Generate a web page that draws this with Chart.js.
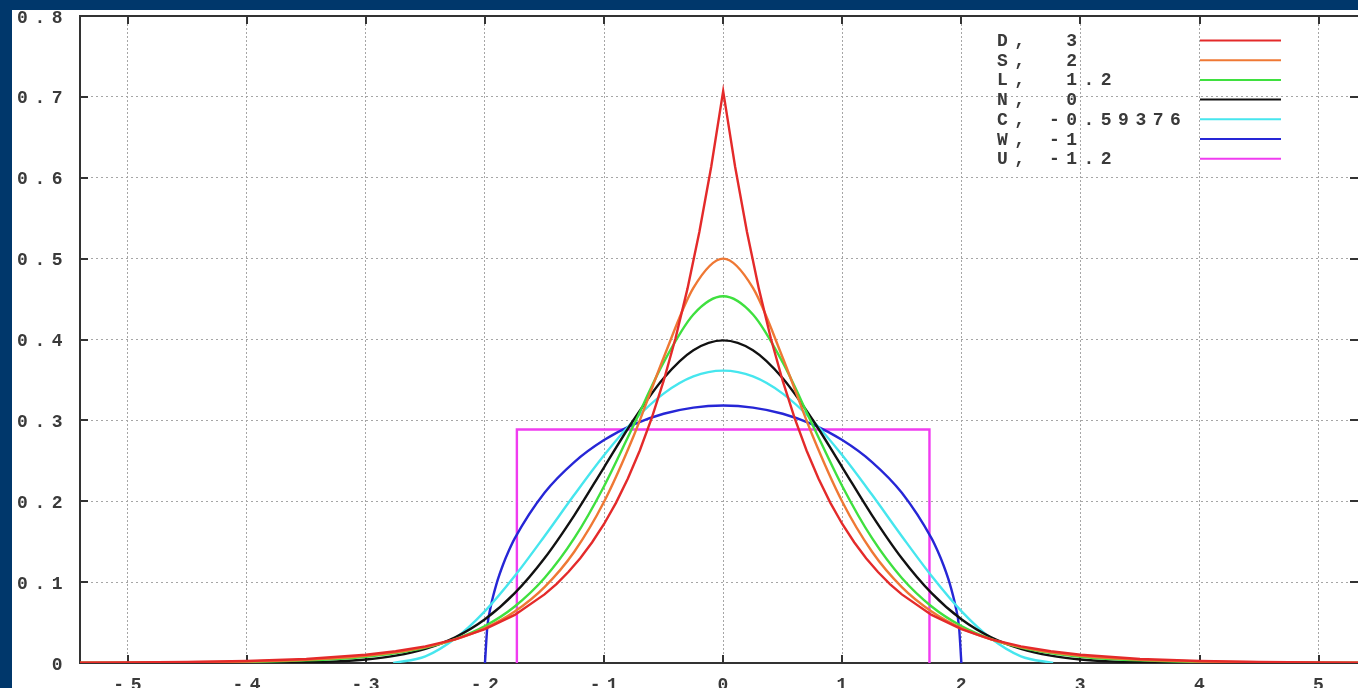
<!DOCTYPE html>
<html><head><meta charset="utf-8">
<script src="https://cdn.jsdelivr.net/npm/chart.js@4.4.1/dist/chart.umd.min.js"></script>
<style>
html,body{margin:0;padding:0;background:#00376b;width:1358px;height:688px;overflow:hidden;}
#wrap{position:absolute;left:12px;top:10px;width:1346px;height:678px;background:#fff;}
canvas{display:block;}
</style></head><body>
<div id="wrap"><canvas id="c"></canvas></div>
<script>
// ---- data ----
const names = ['D', 'S', 'L', 'N', 'C', 'W', 'U'];
const kurtosis = ['3', '2', '1.2', '0', '-0.59376', '-1', '-1.2'];
const colors = ['#e42a2a', '#ef7834', '#3fe03f', '#111111', '#46e6ee', '#2626d6', '#f03cf0'];

const xTickValues = [-5, -4, -3, -2, -1, 0, 1, 2, 3, 4, 5];
const xTickLabels = ['-5', '-4', '-3', '-2', '-1', '0', '1', '2', '3', '4', '5'];
const yTickValues = [0, 0.1, 0.2, 0.3, 0.4, 0.5, 0.6, 0.7, 0.8];
const yTickLabels = ['0', '0.1', '0.2', '0.3', '0.4', '0.5', '0.6', '0.7', '0.8'];

const xGrid = [-5.5,-5.25,-5,-4.75,-4.5,-4.25,-4,-3.75,-3.5,-3.25,-3,-2.75,-2.5,-2.25,-2,-1.75,-1.5,-1.25,-1,-0.75,-0.5,-0.25,0,
  0.25,0.5,0.75,1,1.25,1.5,1.75,2,2.25,2.5,2.75,3,3.25,3.5,3.75,4,4.25,4.5,4.75,5,5.25,5.5];

const xD = [-5.5,-5,-4.5,-4,-3.5,-3,-2.75,-2.5,-2.25,-2,-1.75,-1.5,-1.4,-1.3,-1.2,-1.1,-1,-0.9,-0.8,-0.7,-0.6,-0.5,-0.4,-0.3,-0.2,-0.1,0,
  0.1,0.2,0.3,0.4,0.5,0.6,0.7,0.8,0.9,1,1.1,1.2,1.3,1.4,1.5,1.75,2,2.25,2.5,2.75,3,3.5,4,4.5,5,5.5];
const yD = [0.0003,0.0006,0.0012,0.0025,0.0050,0.0102,0.0145,0.0206,0.0293,0.0418,0.0595,0.0848,0.0976,0.1125,0.1296,0.1493,0.1719,0.1980,0.2281,0.2628,0.3027,0.3487,0.4016,0.4626,0.5329,0.6139,0.7071,
  0.6139,0.5329,0.4626,0.4016,0.3487,0.3027,0.2628,0.2281,0.1980,0.1719,0.1493,0.1296,0.1125,0.0976,0.0848,0.0595,0.0418,0.0293,0.0206,0.0145,0.0102,0.0050,0.0025,0.0012,0.0006,0.0003];

const yS = [0.0002,0.0003,0.0004,0.0006,0.0009,0.0013,0.0019,0.0028,0.0041,0.0061,0.0090,0.0133,0.0197,0.0292,0.0431,0.0637,0.0939,0.1376,0.1993,0.2812,0.3775,0.4638,0.5000,
  0.4638,0.3775,0.2812,0.1993,0.1376,0.0939,0.0637,0.0431,0.0292,0.0197,0.0133,0.0090,0.0061,0.0041,0.0028,0.0019,0.0013,0.0009,0.0006,0.0004,0.0003,0.0002];

const yL = [0.0001,0.0001,0.0002,0.0003,0.0005,0.0008,0.0013,0.0020,0.0032,0.0050,0.0078,0.0122,0.0191,0.0296,0.0457,0.0699,0.1051,0.1543,0.2186,0.2947,0.3717,0.4309,0.4534,
  0.4309,0.3717,0.2947,0.2186,0.1543,0.1051,0.0699,0.0457,0.0296,0.0191,0.0122,0.0078,0.0050,0.0032,0.0020,0.0013,0.0008,0.0005,0.0003,0.0002,0.0001,0.0001];

const yN = [0,0,0,0,0,0,0.0001,0.0004,0.0009,0.0020,0.0044,0.0091,0.0175,0.0317,0.0540,0.0863,0.1295,0.1826,0.2420,0.3011,0.3521,0.3867,0.3989,
  0.3867,0.3521,0.3011,0.2420,0.1826,0.1295,0.0863,0.0540,0.0317,0.0175,0.0091,0.0044,0.0020,0.0009,0.0004,0.0001,0,0,0,0,0,0];

const xC = [-2.77,-2.5,-2.25,-2,-1.75,-1.5,-1.25,-1,-0.75,-0.5,-0.25,0,0.25,0.5,0.75,1,1.25,1.5,1.75,2,2.25,2.5,2.77];
const yC = [0,0.0082,0.0302,0.0642,0.1076,0.1568,0.2080,0.2569,0.2998,0.3331,0.3543,0.3615,0.3543,0.3331,0.2998,0.2569,0.2080,0.1568,0.1076,0.0642,0.0302,0.0082,0];

const xW = [-2,-1.98,-1.95,-1.9,-1.85,-1.8,-1.75,-1.5,-1.25,-1,-0.75,-0.5,-0.25,0,0.25,0.5,0.75,1,1.25,1.5,1.75,1.8,1.85,1.9,1.95,1.98,2];
const yW = [0,0.0449,0.0707,0.0994,0.1209,0.1387,0.1541,0.2105,0.2485,0.2757,0.2951,0.3082,0.3158,0.3183,0.3158,0.3082,0.2951,0.2757,0.2485,0.2105,0.1541,0.1387,0.1209,0.0994,0.0707,0.0449,0];

const xU = [-1.732, -1.732, 1.732, 1.732];
const yU = [0, 0.2887, 0.2887, 0];

// ---- build datasets ----
const seriesX = [xD, xGrid, xGrid, xGrid, xC, xW, xU];
const seriesY = [yD, yS, yL, yN, yC, yW, yU];
const smooth = [false, true, true, true, true, true, false];

function legendText(i) {
  const v = kurtosis[i];
  return names[i] + ', ' + (v.charAt(0) === '-' ? '' : ' ') + v;
}

const datasets = names.map((n, i) => ({
  label: legendText(i),
  data: seriesX[i].map((x, j) => ({ x: x, y: seriesY[i][j] })),
  showLine: true,
  borderColor: colors[i],
  backgroundColor: colors[i],
  borderWidth: 2.4,
  pointRadius: 0,
  fill: false,
  tension: 0,
  cubicInterpolationMode: smooth[i] ? 'monotone' : 'default'
}));

const FONT_FAMILY = '"Liberation Mono", "DejaVu Sans Mono", monospace';
const FONT_SIZE = 18;
const FONT_WEIGHT = 'bold';
const LETTER_SPACING = '6.5px';
const TEXT_COLOR = '#3a3a3a';

const gnuplotPlugin = {
  id: 'gnuplotFrame',
  beforeDraw(chart) {
    chart.ctx.letterSpacing = LETTER_SPACING;
  },
  beforeDatasetsDraw(chart) {
    const { ctx, chartArea: a, scales: { x, y } } = chart;
    ctx.save();
    ctx.strokeStyle = '#333';
    ctx.lineWidth = 2;
    ctx.beginPath();
    ctx.moveTo(a.left - 1, a.top);
    ctx.lineTo(a.right + 2, a.top);
    xTickValues.forEach(v => {
      const px = Math.round(x.getPixelForValue(v));
      ctx.moveTo(px, a.bottom); ctx.lineTo(px, a.bottom - 8);
      ctx.moveTo(px, a.top); ctx.lineTo(px, a.top + 8);
    });
    yTickValues.forEach(v => {
      const py = Math.round(y.getPixelForValue(v));
      ctx.moveTo(a.left, py); ctx.lineTo(a.left + 8, py);
      ctx.moveTo(a.right, py); ctx.lineTo(a.right - 8, py);
    });
    ctx.stroke();
    ctx.restore();
  },
  afterDraw(chart) {
    const ctx = chart.ctx;
    ctx.save();
    ctx.letterSpacing = LETTER_SPACING;
    ctx.font = FONT_WEIGHT + ' ' + FONT_SIZE + 'px ' + FONT_FAMILY;
    ctx.textBaseline = 'middle';
    ctx.textAlign = 'left';
    chart.data.datasets.forEach((ds, i) => {
      const yy = 30.5 + i * 19.7;
      ctx.fillStyle = TEXT_COLOR;
      ctx.fillText(ds.label, 985, yy + 1);
      ctx.strokeStyle = ds.borderColor;
      ctx.lineWidth = 2;
      ctx.beginPath();
      ctx.moveTo(1188, yy);
      ctx.lineTo(1269, yy);
      ctx.stroke();
    });
    ctx.restore();
  }
};

new Chart(document.getElementById('c'), {
  type: 'scatter',
  data: { datasets: datasets },
  plugins: [gnuplotPlugin],
  options: {
    responsive: true,
    maintainAspectRatio: false,
    animation: false,
    layout: { padding: { top: 6, right: 0, left: 0, bottom: 0 } },
    plugins: { legend: { display: false }, tooltip: { enabled: false } },
    scales: {
      x: {
        type: 'linear', min: -5.4, max: 5.33,
        afterBuildTicks(s) { s.ticks = xTickValues.map(v => ({ value: v })); },
        afterFit(s) { s.height = 25; s.paddingLeft = 0; s.paddingRight = 0; },
        grid: { color: '#a6a6a6', lineWidth: 1, drawTicks: false },
        border: { display: true, color: '#333', width: 2, dash: [2, 2] },
        ticks: {
          autoSkip: false, maxRotation: 0, padding: 12, labelOffset: 3,
          color: TEXT_COLOR, font: { family: FONT_FAMILY, size: FONT_SIZE, weight: FONT_WEIGHT },
          callback: (v, i) => xTickLabels[i]
        }
      },
      y: {
        type: 'linear', min: 0, max: 0.8,
        afterBuildTicks(s) { s.ticks = yTickValues.map(v => ({ value: v })); },
        afterFit(s) { s.width = 68; s.paddingTop = 0; s.paddingBottom = 0; },
        grid: { color: '#a6a6a6', lineWidth: 1, drawTicks: false },
        border: { display: true, color: '#333', width: 2, dash: [2, 3] },
        ticks: {
          autoSkip: false, padding: 11, labelOffset: 2,
          color: TEXT_COLOR, font: { family: FONT_FAMILY, size: FONT_SIZE, weight: FONT_WEIGHT },
          callback: (v, i) => yTickLabels[i]
        }
      }
    }
  }
});
</script></body></html>
